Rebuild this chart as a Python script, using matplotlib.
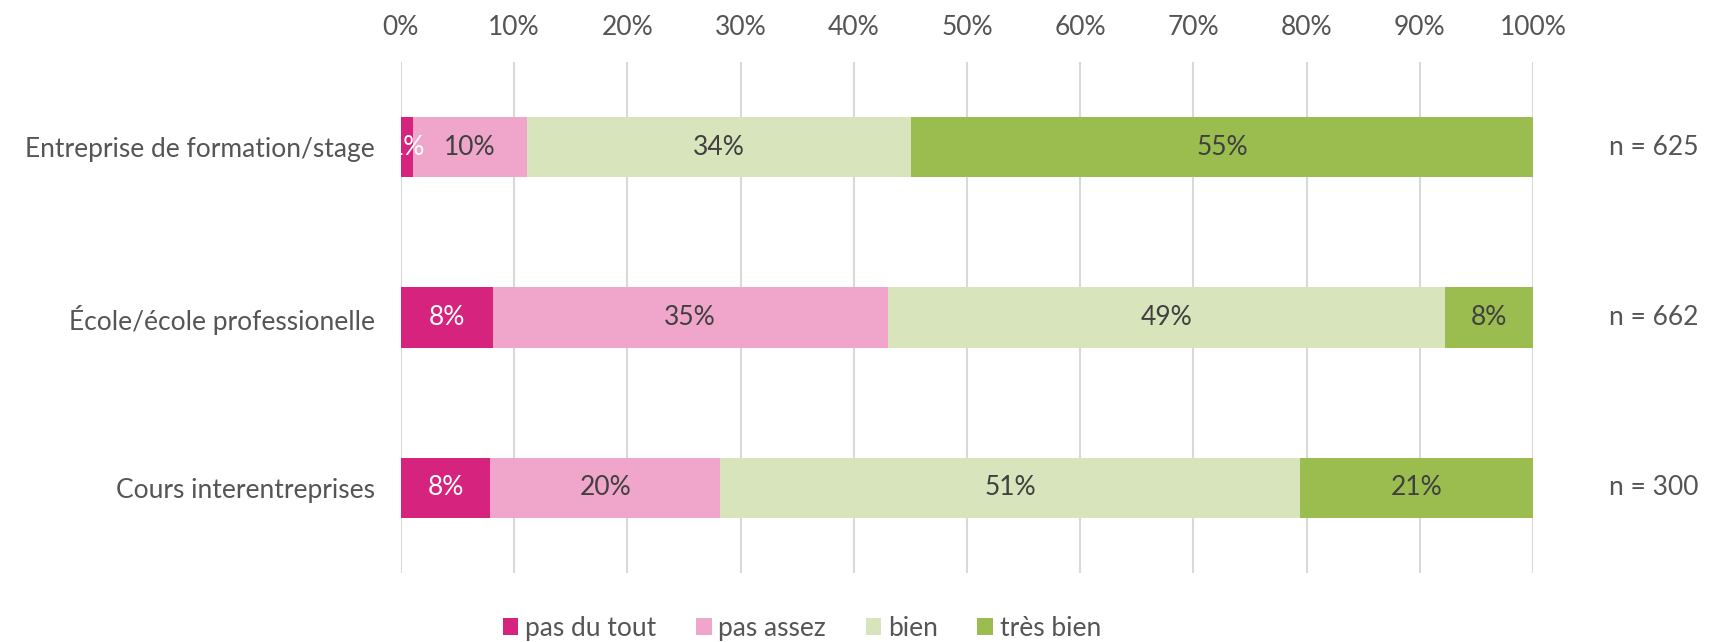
import numpy as np
import matplotlib.pyplot as plt

categories = ['Entreprise de formation/stage', 'École/école professionelle', 'Cours interentreprises']
series_names = ['pas du tout', 'pas assez', 'bien', 'très bien']
pas_du_tout = [1.1, 8.1, 7.9]
pas_assez = [10.0, 34.9, 20.3]
bien = [34.0, 49.2, 51.2]
tres_bien = [54.9, 7.8, 20.6]
n_labels = ['n = 625', 'n = 662', 'n = 300']

colors = ['#D6237E', '#F0A6CB', '#D8E4BB', '#9BBD50']
text_colors = ['white', '#404040', '#404040', '#404040']

plt.rcParams['font.family'] = ['Lato', 'DejaVu Sans']
fs = 19
gray = '#555555'

fig = plt.figure(figsize=(17.17, 6.42), dpi=100)
ax = fig.add_axes([0.2335, 0.1075, 0.6593, 0.7959])

y = np.arange(len(categories))
left = np.zeros(len(categories))
for name, vals, c, tc in zip(series_names, [pas_du_tout, pas_assez, bien, tres_bien], colors, text_colors):
    vals = np.array(vals)
    ax.barh(y, vals, left=left, height=0.355, color=c, label=name, zorder=3)
    for yi, l, v in zip(y, left, vals):
        ax.text(l + v / 2, yi, f'{round(v):.0f}%', ha='center', va='center',
                color=tc, fontsize=fs, zorder=4)
    left += vals

ax.set_xlim(0, 100)
ax.set_ylim(len(categories) - 0.5, -0.5)
ax.set_xticks(np.arange(0, 101, 10))
ax.set_xticklabels([f'{t}%' for t in range(0, 101, 10)])
ax.xaxis.tick_top()
ax.set_yticks(y)
ax.set_yticklabels(categories)
ax.tick_params(axis='both', length=0, labelsize=fs, labelcolor=gray)
ax.tick_params(axis='x', pad=16)
ax.tick_params(axis='y', pad=19)
ax.grid(axis='x', color='#D9D9D9', linewidth=1.5, zorder=0)
for s in ax.spines.values():
    s.set_visible(False)

for yi, t in zip(y, n_labels):
    ax.text(1.146, yi, t, transform=ax.get_yaxis_transform(), ha='right', va='center',
            fontsize=fs, color=gray)

fig.legend(loc='lower center', bbox_to_anchor=(0.467, -0.035), ncol=4, frameon=False,
           fontsize=fs, labelcolor=gray, handlelength=0.6, handleheight=0.6,
           handletextpad=0.25, columnspacing=1.5)

fig.savefig('out.png', dpi=100)
